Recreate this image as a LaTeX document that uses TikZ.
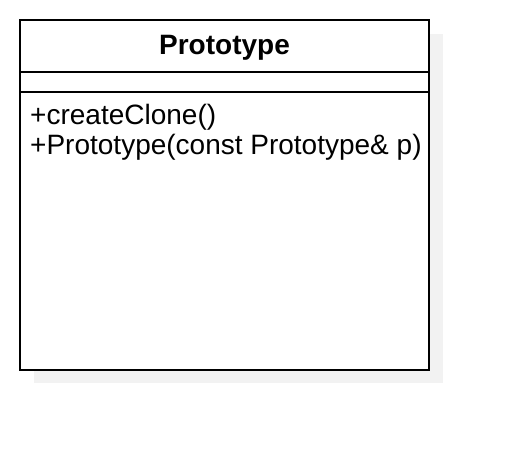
\documentclass[tikz,border=0pt]{standalone}
\usepackage{fontspec}
\setmainfont{Liberation Sans}
\usetikzlibrary{positioning}

\begin{document}
\begin{tikzpicture}[x=1pt,y=1pt,yscale=-1,xscale=1,
  umltext/.style={inner sep=0pt,font=\fontsize{28}{32}\selectfont},
  umlline/.style={line width=1.6pt}]
\definecolor{shadowgray}{HTML}{F2F2F2}
\useasboundingbox (0,0) rectangle (508,450);

%Shape: Shadow
\fill[shadowgray] (34,34) rectangle (443,383);
%Shape: Class box
\draw[umlline, fill=white] (20,20) rectangle (429,370);
\coordinate (sepA west) at (20,72);
\coordinate (sepA east) at (429,72);
\coordinate (sepB west) at (20,92);
\coordinate (sepB east) at (429,92);
%Straight Lines
\draw[umlline] (sepA west) -- (sepA east);
\draw[umlline] (sepB west) -- (sepB east);

% Text Node
\node[umltext, font=\fontsize{28}{32}\selectfont\bfseries] (title) at (224.5,47.5) {Prototype};
% Text Node
\node[umltext, anchor=west] (opclone) at (30,117) {+createClone()};
% Text Node
\node[umltext, anchor=west] (opctor) at (30,147) {+Prototype(const Prototype\& p)};

\end{tikzpicture}
\end{document}
